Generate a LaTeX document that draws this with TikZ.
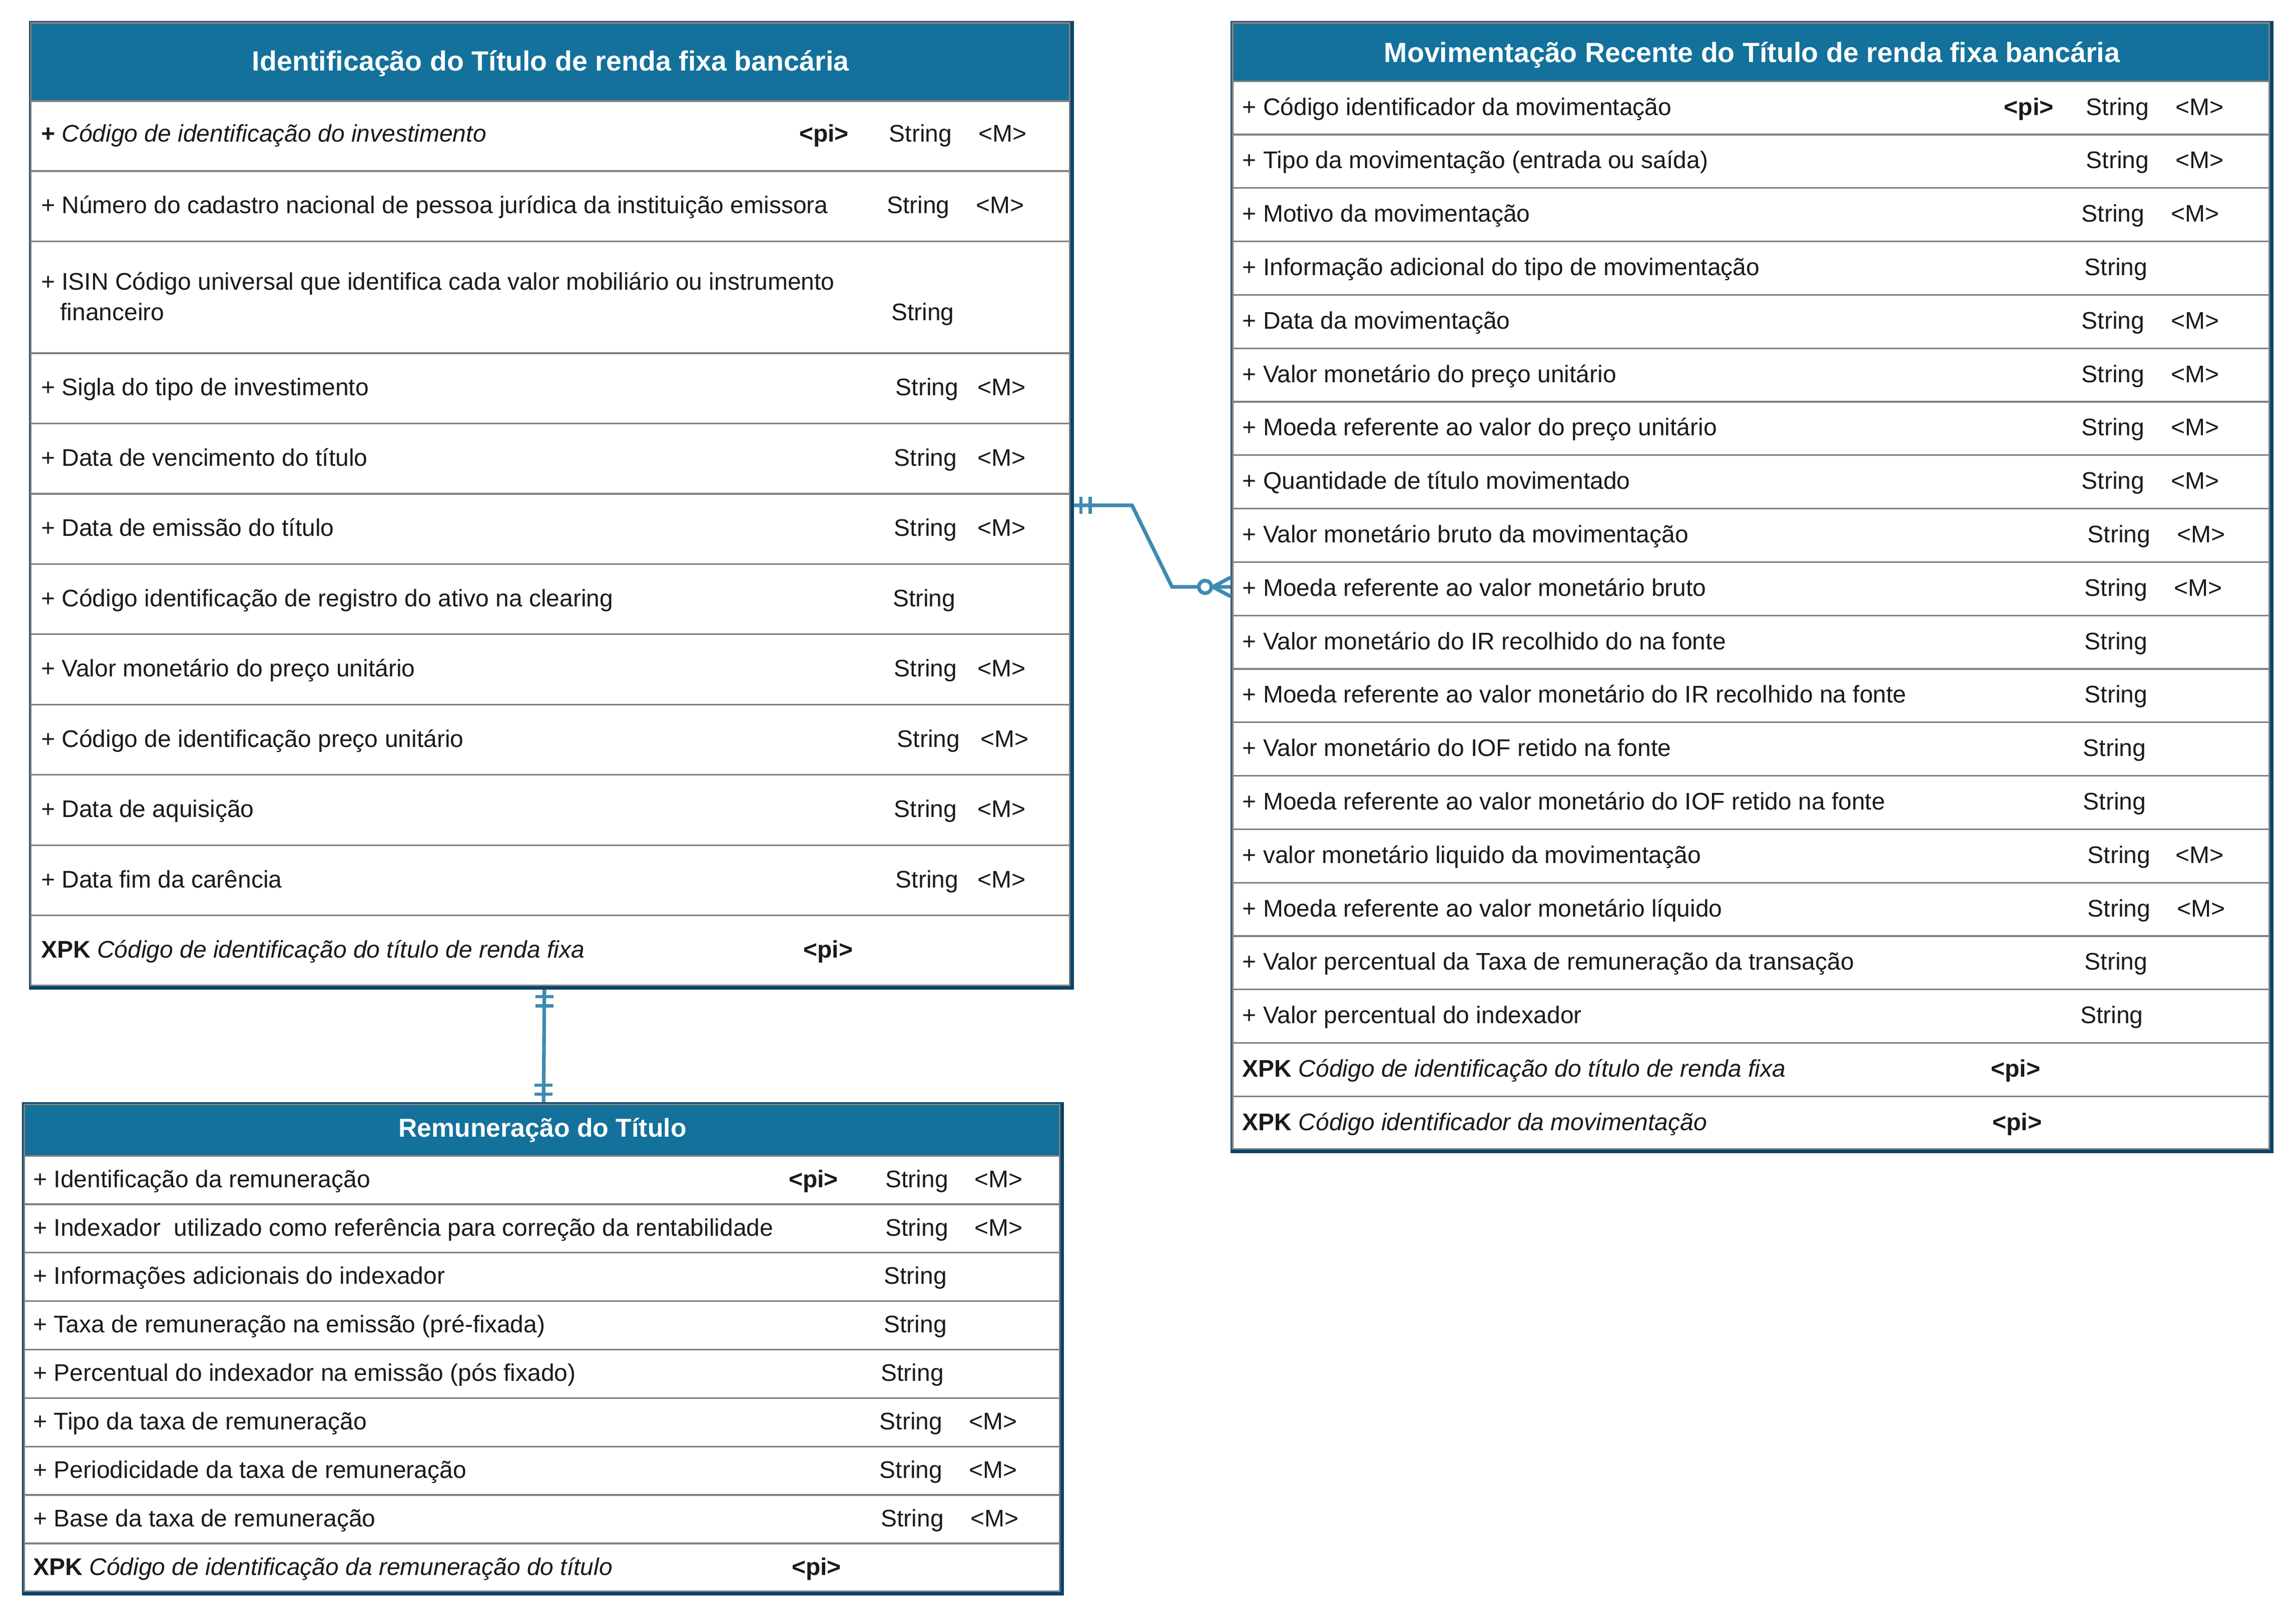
\documentclass[tikz,border=0pt]{standalone}
\usepackage{fontspec}
\setmainfont{Liberation Sans}
\definecolor{navy}{RGB}{8,68,106}
\definecolor{hdr}{RGB}{19,113,155}
\definecolor{gridgray}{RGB}{128,128,128}
\definecolor{conn}{RGB}{64,138,176}
\definecolor{txt}{RGB}{26,26,26}
\newcommand\ertxt[4]{\node[attr] (#1) at (#2,#3) {#4};}
\begin{document}
\begin{tikzpicture}[x=1pt,y=-1pt,
  attr/.style={anchor=base west, inner sep=0pt, text=txt, font=\fontsize{16.4}{19.7}\selectfont},
  ttl/.style={anchor=base, inner sep=0pt, text=white, font=\fontsize{19}{22}\selectfont\bfseries},
  frame/.style={fill=navy, draw=none, inner sep=0pt, outer sep=0pt, anchor=north west},
  sep/.style={draw=gridgray, line width=1.1pt},
  rel/.style={draw=conn, line width=2.5pt},
  tick/.style={draw=conn, line width=2.3pt}]
\useasboundingbox[fill=white] (0,0) rectangle (1568,1103.2);

% ---------------- Table 1 ----------------
\node[frame, minimum width=713.7pt, minimum height=661.6pt] (t1) at (19.7,14.4) {};
\fill[gridgray] (20.5,15.2) rectangle (731,673.6);
\fill[white] (21.6,16.3) rectangle (729.9,672.5);
\fill[hdr] (21.6,16.3) rectangle (729.9,68.45);
\foreach \yy in {69,116.9,164.8,241.3,289.3,337.3,385.3,433.3,481.3,529.3,577.3,625.3}
  \draw[sep] (20.5,\yy) -- (731,\yy);
\node[ttl] (t1t) at (376,48.5) {Identificação do Título de renda fixa bancária};
\ertxt{t1a1}{27.9}{97}{\textbf{+} \textit{Código de identificação do investimento}}
\ertxt{t1p1}{545.6}{97}{\textbf{<pi>}}
\ertxt{t1s1}{607}{97}{String}
\ertxt{t1m1}{668.2}{97}{<M>}
\ertxt{t1a2}{27.9}{145.9}{+ Número do cadastro nacional de pessoa jurídica da instituição emissora}
\ertxt{t1s2}{605.5}{145.9}{String}
\ertxt{t1m2}{666.5}{145.9}{<M>}
\ertxt{t1a3}{27.9}{198}{+ ISIN Código universal que identifica cada valor mobiliário ou instrumento}
\ertxt{t1b3}{41}{219}{financeiro}
\ertxt{t1s3}{608.5}{219}{String}
\ertxt{t1a4}{27.9}{270.3}{+ Sigla do tipo de investimento}
\ertxt{t1s4}{611.5}{270.3}{String}
\ertxt{t1m4}{667.5}{270.3}{<M>}
\ertxt{t1a5}{27.9}{318.3}{+ Data de vencimento do título}
\ertxt{t1s5}{610.5}{318.3}{String}
\ertxt{t1m5}{667.5}{318.3}{<M>}
\ertxt{t1a6}{27.9}{366.3}{+ Data de emissão do título}
\ertxt{t1s6}{610.5}{366.3}{String}
\ertxt{t1m6}{667.5}{366.3}{<M>}
\ertxt{t1a7}{27.9}{414.3}{+ Código identificação de registro do ativo na clearing}
\ertxt{t1s7}{609.5}{414.3}{String}
\ertxt{t1a8}{27.9}{462.3}{+ Valor monetário do preço unitário}
\ertxt{t1s8}{610.5}{462.3}{String}
\ertxt{t1m8}{667.5}{462.3}{<M>}
\ertxt{t1a9}{27.9}{510.3}{+ Código de identificação preço unitário}
\ertxt{t1s9}{612.5}{510.3}{String}
\ertxt{t1m9}{669.5}{510.3}{<M>}
\ertxt{t1a10}{27.9}{558.3}{+ Data de aquisição}
\ertxt{t1s10}{610.5}{558.3}{String}
\ertxt{t1m10}{667.5}{558.3}{<M>}
\ertxt{t1a11}{27.9}{606.3}{+ Data fim da carência}
\ertxt{t1s11}{611.5}{606.3}{String}
\ertxt{t1m11}{667.5}{606.3}{<M>}
\ertxt{t1a12}{27.9}{654.3}{\textbf{XPK} \textit{Código de identificação do título de renda fixa}}
\ertxt{t1p12}{548.5}{654.3}{\textbf{<pi>}}

% ---------------- Table 2 ----------------
\node[frame, minimum width=712.2pt, minimum height=773.4pt] (t2) at (840.4,14.4) {};
\fill[gridgray] (841.2,15.2) rectangle (1550.2,785.4);
\fill[white] (842.3,16.3) rectangle (1549.1,784.3);
\fill[hdr] (842.3,16.3) rectangle (1549.1,54.85);
\foreach \k in {0,...,19}
  \draw[sep] (841.2,{55.4+36.5*\k}) -- (1550.2,{55.4+36.5*\k});
\node[ttl] (t2t) at (1196.5,42.5) {Movimentação Recente do Título de renda fixa bancária};
\ertxt{t2a1}{848.3}{78.65}{+ Código identificador da movimentação}
\ertxt{t2p1}{1368.5}{78.65}{\textbf{<pi>}}
\ertxt{t2s1}{1424.5}{78.65}{String}
\ertxt{t2m1}{1485.5}{78.65}{<M>}
\ertxt{t2a2}{848.3}{115.15}{+ Tipo da movimentação (entrada ou saída)}
\ertxt{t2s2}{1424.5}{115.15}{String}
\ertxt{t2m2}{1485.5}{115.15}{<M>}
\ertxt{t2a3}{848.3}{151.65}{+ Motivo da movimentação}
\ertxt{t2s3}{1421.5}{151.65}{String}
\ertxt{t2m3}{1482.5}{151.65}{<M>}
\ertxt{t2a4}{848.3}{188.15}{+ Informação adicional do tipo de movimentação}
\ertxt{t2s4}{1423.5}{188.15}{String}
\ertxt{t2a5}{848.3}{224.65}{+ Data da movimentação}
\ertxt{t2s5}{1421.5}{224.65}{String}
\ertxt{t2m5}{1482.5}{224.65}{<M>}
\ertxt{t2a6}{848.3}{261.15}{+ Valor monetário do preço unitário}
\ertxt{t2s6}{1421.5}{261.15}{String}
\ertxt{t2m6}{1482.5}{261.15}{<M>}
\ertxt{t2a7}{848.3}{297.65}{+ Moeda referente ao valor do preço unitário}
\ertxt{t2s7}{1421.5}{297.65}{String}
\ertxt{t2m7}{1482.5}{297.65}{<M>}
\ertxt{t2a8}{848.3}{334.15}{+ Quantidade de título movimentado}
\ertxt{t2s8}{1421.5}{334.15}{String}
\ertxt{t2m8}{1482.5}{334.15}{<M>}
\ertxt{t2a9}{848.3}{370.65}{+ Valor monetário bruto da movimentação}
\ertxt{t2s9}{1425.5}{370.65}{String}
\ertxt{t2m9}{1486.5}{370.65}{<M>}
\ertxt{t2a10}{848.3}{407.15}{+ Moeda referente ao valor monetário bruto}
\ertxt{t2s10}{1423.5}{407.15}{String}
\ertxt{t2m10}{1484.5}{407.15}{<M>}
\ertxt{t2a11}{848.3}{443.65}{+ Valor monetário do IR recolhido do na fonte}
\ertxt{t2s11}{1423.5}{443.65}{String}
\ertxt{t2a12}{848.3}{480.15}{+ Moeda referente ao valor monetário do IR recolhido na fonte}
\ertxt{t2s12}{1423.5}{480.15}{String}
\ertxt{t2a13}{848.3}{516.65}{+ Valor monetário do IOF retido na fonte}
\ertxt{t2s13}{1422.5}{516.65}{String}
\ertxt{t2a14}{848.3}{553.15}{+ Moeda referente ao valor monetário do IOF retido na fonte}
\ertxt{t2s14}{1422.5}{553.15}{String}
\ertxt{t2a15}{848.3}{589.65}{+ valor monetário liquido da movimentação}
\ertxt{t2s15}{1425.5}{589.65}{String}
\ertxt{t2m15}{1485.5}{589.65}{<M>}
\ertxt{t2a16}{848.3}{626.15}{+ Moeda referente ao valor monetário líquido}
\ertxt{t2s16}{1425.5}{626.15}{String}
\ertxt{t2m16}{1486.5}{626.15}{<M>}
\ertxt{t2a17}{848.3}{662.65}{+ Valor percentual da Taxa de remuneração da transação}
\ertxt{t2s17}{1423.5}{662.65}{String}
\ertxt{t2a18}{848.3}{699.15}{+ Valor percentual do indexador}
\ertxt{t2s18}{1420.5}{699.15}{String}
\ertxt{t2a19}{848.3}{735.65}{\textbf{XPK} \textit{Código de identificação do título de renda fixa}}
\ertxt{t2p19}{1359.5}{735.65}{\textbf{<pi>}}
\ertxt{t2a20}{848.3}{772.15}{\textbf{XPK} \textit{Código identificador da movimentação}}
\ertxt{t2p20}{1360.5}{772.15}{\textbf{<pi>}}

% ---------------- Table 3 ----------------
\node[frame, minimum width=711.4pt, minimum height=336.8pt] (t3) at (15.2,753) {};
\fill[gridgray] (16,753.8) rectangle (724.2,1087.4);
\fill[white] (17.1,754.9) rectangle (723.1,1086.3);
\fill[hdr] (17.1,754.9) rectangle (723.1,788.95);
\foreach \k in {0,...,8}
  \draw[sep] (16,{789.5+33.1*\k}) -- (724.2,{789.5+33.1*\k});
\node[ttl, font=\fontsize{17.7}{21}\selectfont\bfseries] (t3t) at (370.5,776.5) {Remuneração do Título};
\ertxt{t3a1}{22.5}{811.05}{+ Identificação da remuneração}
\ertxt{t3p1}{538.5}{811.05}{\textbf{<pi>}}
\ertxt{t3s1}{604.5}{811.05}{String}
\ertxt{t3m1}{665.5}{811.05}{<M>}
\ertxt{t3a2}{22.5}{844.15}{+ Indexador\ \ utilizado como referência para correção da rentabilidade}
\ertxt{t3s2}{604.5}{844.15}{String}
\ertxt{t3m2}{665.5}{844.15}{<M>}
\ertxt{t3a3}{22.5}{877.25}{+ Informações adicionais do indexador}
\ertxt{t3s3}{603.5}{877.25}{String}
\ertxt{t3a4}{22.5}{910.35}{+ Taxa de remuneração na emissão (pré-fixada)}
\ertxt{t3s4}{603.5}{910.35}{String}
\ertxt{t3a5}{22.5}{943.45}{+ Percentual do indexador na emissão (pós fixado)}
\ertxt{t3s5}{601.5}{943.45}{String}
\ertxt{t3a6}{22.5}{976.55}{+ Tipo da taxa de remuneração}
\ertxt{t3s6}{600.5}{976.55}{String}
\ertxt{t3m6}{661.5}{976.55}{<M>}
\ertxt{t3a7}{22.5}{1009.65}{+ Periodicidade da taxa de remuneração}
\ertxt{t3s7}{600.5}{1009.65}{String}
\ertxt{t3m7}{661.5}{1009.65}{<M>}
\ertxt{t3a8}{22.5}{1042.75}{+ Base da taxa de remuneração}
\ertxt{t3s8}{601.5}{1042.75}{String}
\ertxt{t3m8}{662.5}{1042.75}{<M>}
\ertxt{t3a9}{22.5}{1075.85}{\textbf{XPK} \textit{Código de identificação da remuneração do título}}
\ertxt{t3p9}{540.5}{1075.85}{\textbf{<pi>}}

% ---------------- Relationships ----------------
% t1 (one and only one) -- t2 (zero or many)
\draw[rel] (t1.east |- 0,345.2) -- (773.1,345.2) -- (800.4,400.9) -- (t2.west |- 0,400.9);
\draw[tick] (738.2,339.4) -- (738.2,351);
\draw[tick] (744.4,339.4) -- (744.4,351);
\draw[rel, fill=white] (823,400.9) circle (4.3pt);
\draw[rel] (828.3,400.9) -- (t2.west |- 0,394.4);
\draw[rel] (828.3,400.9) -- (t2.west |- 0,407.4);
% t1 (one and only one) -- t3 (one and only one)
\draw[rel] (371.8,0 |- t1.south) -- (371.2,0 |- t3.north);
\draw[tick] (365.6,680.8) -- (378,680.8);
\draw[tick] (365.6,687) -- (378,687);
\draw[tick] (365,741.3) -- (377.4,741.3);
\draw[tick] (365,747.4) -- (377.4,747.4);
\end{tikzpicture}
\end{document}
